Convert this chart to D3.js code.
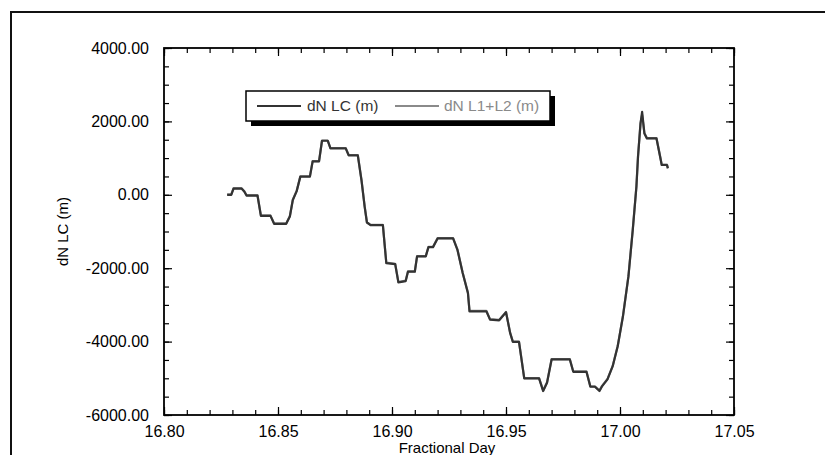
<!doctype html>
<html lang="en">
<head>
    <meta http-equiv="content-type" content="text/html; charset=utf-8" />
    <title>dN LC vs Fractional Day</title>
    <style>
        html, body { margin: 0; padding: 0; background: #fff; overflow: hidden; }
        svg { display: block; }
        svg text { font-family: "Liberation Sans", Arial, Helvetica, sans-serif; }
    </style>
</head>
<body>
    <svg id="chart"></svg>

    <script src="https://cdn.jsdelivr.net/npm/d3@7/dist/d3.min.js"></script>
    <script>
        // fractional day of each point
        const days = [
            16.8277, 16.8295, 16.8305, 16.8340, 16.8352, 16.8362, 16.8410, 16.8425, 16.8467, 16.8483,
            16.8536, 16.8552, 16.8565, 16.8582, 16.8598, 16.8640, 16.8652, 16.8680, 16.8693, 16.8718,
            16.8730, 16.8797, 16.8810, 16.8850, 16.8866, 16.8880, 16.8890, 16.8906, 16.8960, 16.8975,
            16.9014, 16.9028, 16.9060, 16.9070, 16.9100, 16.9110, 16.9148, 16.9160, 16.9180, 16.9200,
            16.9268, 16.9287, 16.9310, 16.9333, 16.9340, 16.9414, 16.9430, 16.9470, 16.9500, 16.9518,
            16.9530, 16.9557, 16.9580, 16.9645, 16.9663, 16.9680, 16.9700, 16.9780, 16.9795, 16.9853,
            16.9870, 16.9890, 16.9910, 16.9922, 16.9945, 16.9968, 16.9990, 17.0013, 17.0037, 17.0056,
            17.0072, 17.0079, 17.0090, 17.0097, 17.0107, 17.0118, 17.0160, 17.0176, 17.0183, 17.0206,
            17.0210
        ];
        // dN LC (m)
        const dnLC = [
            0, 0, 170, 170, 90, -20, -20, -575, -575, -790,
            -790, -590, -140, 100, 495, 495, 910, 910, 1473, 1473,
            1265, 1265, 1074, 1074, 404, -320, -755, -828, -828, -1860,
            -1888, -2386, -2350, -2096, -2096, -1680, -1680, -1426, -1426, -1190,
            -1190, -1498, -2132, -2676, -3174, -3174, -3400, -3420, -3200, -3763,
            -4007, -4007, -5004, -5004, -5348, -5121, -4487, -4487, -4823, -4823,
            -5230, -5230, -5348, -5212, -5031, -4670, -4125, -3310, -2223, -955,
            223, 1038, 1944, 2261, 1672, 1536, 1536, 1038, 812, 812,
            721
        ];
        // dN L1+L2 (m)
        const dnL12 = [
            10, 10, 180, 180, 100, -10, -10, -560, -560, -780,
            -780, -580, -130, 110, 505, 505, 920, 920, 1480, 1480,
            1275, 1275, 1085, 1085, 415, -310, -745, -818, -818, -1850,
            -1878, -2376, -2340, -2086, -2086, -1670, -1670, -1416, -1416, -1180,
            -1180, -1488, -2122, -2666, -3164, -3164, -3390, -3410, -3190, -3753,
            -3997, -3997, -4994, -4994, -5330, -5110, -4477, -4477, -4813, -4813,
            -5220, -5220, -5330, -5200, -5020, -4660, -4115, -3300, -2213, -945,
            233, 1048, 1954, 2180, 1682, 1546, 1546, 1048, 822, 822,
            731
        ];
        const series = [
            {name: "dN L1+L2 (m)", values: dnL12, color: "#8a8a8a"},
            {name: "dN LC (m)", values: dnLC, color: "#333333"}
        ];
        const xTicks = [16.80, 16.85, 16.90, 16.95, 17.00, 17.05];
        const yTicks = [-6000, -4000, -2000, 0, 2000, 4000];

        const width = 825, height = 455;
        const plot = {left: 164, right: 734, top: 48, bottom: 415};

        const svg = d3.select("#chart")
            .attr("width", width)
            .attr("height", height);

        // outer border (only top and left visible)
        svg.append("path")
            .attr("d", `M11,${height} L11,12 L${width},12`)
            .attr("fill", "none")
            .attr("stroke", "#111")
            .attr("stroke-width", 2);

        const x = d3.scaleLinear().domain([16.80, 17.05]).range([plot.left, plot.right]);
        const y = d3.scaleLinear().domain([-6000, 4000]).range([plot.bottom, plot.top]);

        const minorX = d3.range(0, 26).map(i => 16.80 + i * 0.01);
        const minorY = d3.range(0, 21).map(i => -6000 + i * 500);

        // plain hyphen for negative numbers, as in the original
        const fmt = d => d3.format(".2f")(d).replace("\u2212", "-");

        function styleAxis(g) {
            g.select(".domain").remove();
            g.selectAll("line").attr("stroke", "#000").attr("stroke-width", 1.2);
        }

        // minor ticks, all four sides
        svg.append("g").attr("transform", `translate(0,${plot.bottom})`)
            .call(d3.axisBottom(x).tickValues(minorX).tickFormat("").tickSize(-5)).call(styleAxis);
        svg.append("g").attr("transform", `translate(0,${plot.top})`)
            .call(d3.axisTop(x).tickValues(minorX).tickFormat("").tickSize(-5)).call(styleAxis);
        svg.append("g").attr("transform", `translate(${plot.left},0)`)
            .call(d3.axisLeft(y).tickValues(minorY).tickFormat("").tickSize(-5)).call(styleAxis);
        svg.append("g").attr("transform", `translate(${plot.right},0)`)
            .call(d3.axisRight(y).tickValues(minorY).tickFormat("").tickSize(-5)).call(styleAxis);

        // major ticks + labels
        const xAxis = svg.append("g").attr("transform", `translate(0,${plot.bottom})`)
            .call(d3.axisBottom(x).tickValues(xTicks).tickFormat(fmt).tickSize(-8).tickPadding(11))
            .call(styleAxis);
        xAxis.selectAll("text").attr("font-size", 16).attr("fill", "#000")
            .attr("font-family", "'Liberation Sans', Arial, sans-serif");

        svg.append("g").attr("transform", `translate(0,${plot.top})`)
            .call(d3.axisTop(x).tickValues(xTicks).tickFormat("").tickSize(-8)).call(styleAxis);

        const yAxis = svg.append("g").attr("transform", `translate(${plot.left},0)`)
            .call(d3.axisLeft(y).tickValues(yTicks).tickFormat(fmt).tickSize(-8).tickPadding(15))
            .call(styleAxis);
        yAxis.selectAll("text").attr("font-size", 16).attr("fill", "#000")
            .attr("font-family", "'Liberation Sans', Arial, sans-serif");

        svg.append("g").attr("transform", `translate(${plot.right},0)`)
            .call(d3.axisRight(y).tickValues(yTicks).tickFormat("").tickSize(-8)).call(styleAxis);

        // frame
        svg.append("rect")
            .attr("x", plot.left).attr("y", plot.top)
            .attr("width", plot.right - plot.left).attr("height", plot.bottom - plot.top)
            .attr("fill", "none").attr("stroke", "#000").attr("stroke-width", 1.8);

        // lines
        const line = d3.line()
            .x((d, i) => x(days[i]))
            .y(d => y(d));

        svg.append("g")
            .selectAll("path")
            .data(series)
            .join("path")
            .attr("fill", "none")
            .attr("stroke", d => d.color)
            .attr("stroke-width", 2.2)
            .attr("stroke-linejoin", "round")
            .attr("d", d => line(d.values));

        // axis titles
        svg.append("text")
            .attr("x", (plot.left + plot.right) / 2 - 2)
            .attr("y", 453)
            .attr("text-anchor", "middle")
            .attr("font-size", 15)
            .text("Fractional Day");

        svg.append("text")
            .attr("transform", `translate(68,${(plot.top + plot.bottom) / 2}) rotate(-90)`)
            .attr("text-anchor", "middle")
            .attr("font-size", 15)
            .text("dN LC (m)");

        // legend
        const lg = {x: 246, y: 91, w: 304, h: 30};
        svg.append("rect")
            .attr("x", lg.x + 5).attr("y", lg.y + 5)
            .attr("width", lg.w).attr("height", lg.h)
            .attr("fill", "#000");
        svg.append("rect")
            .attr("x", lg.x).attr("y", lg.y)
            .attr("width", lg.w).attr("height", lg.h)
            .attr("fill", "#fff").attr("stroke", "#000").attr("stroke-width", 1.5);

        const legendItems = [
            {name: "dN LC (m)", color: "#333333", x0: 257, x1: 301, tx: 307},
            {name: "dN L1+L2 (m)", color: "#8a8a8a", x0: 395, x1: 439, tx: 444}
        ];
        const cy = lg.y + lg.h / 2;
        const li = svg.append("g").selectAll("g").data(legendItems).join("g");
        li.append("line")
            .attr("x1", d => d.x0).attr("x2", d => d.x1)
            .attr("y1", cy).attr("y2", cy)
            .attr("stroke", d => d.color).attr("stroke-width", 2);
        li.append("text")
            .attr("x", d => d.tx).attr("y", cy)
            .attr("dy", "0.35em")
            .attr("font-size", 15.5)
            .attr("fill", d => d.color)
            .text(d => d.name);
    </script>
</body>
</html>
